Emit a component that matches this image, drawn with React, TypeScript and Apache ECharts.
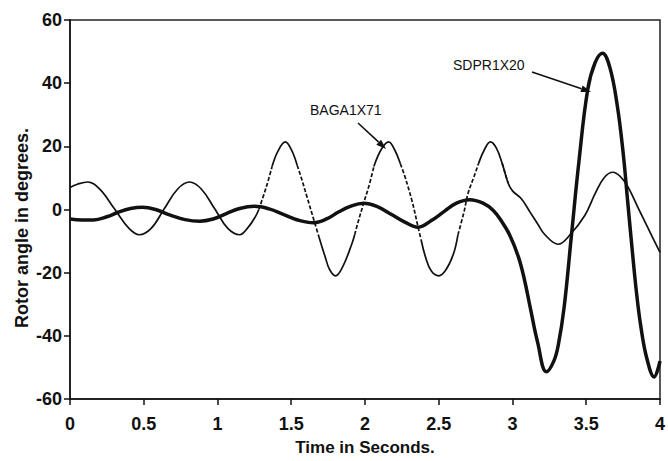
import React, { useEffect, useRef } from "react";
import * as echarts from "echarts";

// BAGA1X71 rotor angle (thin line)
const bagaTime = [
  0, 0.05, 0.12, 0.2, 0.3, 0.4, 0.47, 0.55, 0.64, 0.73, 0.81, 0.89, 0.98, 1.07, 1.15, 1.21, 1.26, 1.28,
  1.33, 1.37, 1.41, 1.46, 1.5, 1.54, 1.565, 1.61, 1.65, 1.69, 1.73, 1.76, 1.8, 1.85, 1.91, 1.93, 1.95,
  1.99, 2.03, 2.06, 2.11, 2.16, 2.2, 2.24, 2.27, 2.32, 2.36, 2.38, 2.41, 2.45, 2.5, 2.55, 2.6, 2.63,
  2.67, 2.7, 2.74, 2.77, 2.81, 2.85, 2.89, 2.93, 2.97, 3.0, 3.06, 3.12, 3.17, 3.22, 3.31, 3.39, 3.49,
  3.56, 3.62, 3.68, 3.73, 3.78, 3.85, 3.92, 4.0,
];
const bagaAngle = [
  7, 8, 8.7, 6.5, 0.3, -6, -8, -6, 0.3, 6.5, 8.7, 6.5, 0.3, -6, -8, -5.5, -2, 0,
  7, 13.6, 18.5, 21.4, 19, 14, 10.5, 3.5, -2.8, -9, -15, -19, -21, -18, -11, -8, -4.5,
  1.9, 8, 13.6, 19, 21.4, 19, 14.5, 10.5, 2.5, -5.6, -9.5, -15, -19.5, -21, -19, -14, -8,
  -1, 5.3, 10.5, 14.6, 19, 21.4, 19.5, 14.6, 8.4, 5.9, 3.4, -0.9, -4.5, -8, -11, -8, -1.9,
  5, 10, 11.8, 10.5, 7.4, 0.7, -6, -13.6,
];

// SDPR1X20 rotor angle (thick line)
const sdprTime = [
  0, 0.08, 0.16, 0.25, 0.33, 0.41, 0.49, 0.58, 0.68, 0.78, 0.88, 0.97, 1.06, 1.15, 1.25, 1.35, 1.45,
  1.55, 1.65, 1.74, 1.82, 1.9, 1.99, 2.08, 2.18, 2.27, 2.36, 2.45, 2.54, 2.62, 2.71, 2.8, 2.87, 2.93,
  2.98, 3.04, 3.08, 3.12, 3.17, 3.23, 3.28, 3.31, 3.35, 3.4, 3.45, 3.51, 3.56, 3.61, 3.66, 3.71, 3.75,
  3.78, 3.81, 3.84, 3.87, 3.91, 3.96, 4.0,
];
const sdprAngle = [
  -3, -3.3, -3.3, -2.3, -0.8, 0.3, 0.7, 0, -1.8, -3.2, -3.7, -3, -1.3, 0.3, 1, 0.2, -1.6,
  -3.4, -4.2, -3, -0.8, 1, 2, 1, -1.6, -4, -5.6, -3.5, -0.5, 2, 3.1, 2, -0.3, -4,
  -8, -15, -22, -31, -42, -51.4, -48, -43, -31, -8, 15, 38, 46.5, 49.5, 45, 33, 18,
  3, -12, -26, -37, -47, -53, -48,
];

// time spans where the BAGA1X71 trace is printed dashed
const bagaDashSpans = [
  [1.28, 1.37],
  [1.54, 1.69],
  [1.93, 2.06],
  [2.24, 2.38],
  [2.63, 2.77],
  [2.93, 2.97],
];

const xTickInterval = 0.5;
const yTickInterval = 20;

function arrow(x1: number, y1: number, x2: number, y2: number) {
  const dx = x2 - x1;
  const dy = y2 - y1;
  const len = Math.sqrt(dx * dx + dy * dy);
  const ux = dx / len;
  const uy = dy / len;
  const hl = 10;
  const hw = 3.5;
  const bx = x2 - ux * hl;
  const by = y2 - uy * hl;
  return [
    {
      type: "line",
      shape: { x1, y1, x2: bx, y2: by },
      style: { stroke: "#111", lineWidth: 1.6 },
      z: 100,
    },
    {
      type: "polygon",
      shape: {
        points: [
          [x2, y2],
          [bx - uy * hw, by + ux * hw],
          [bx + uy * hw, by - ux * hw],
        ],
      },
      style: { fill: "#111" },
      z: 100,
    },
  ];
}

export default function App() {
  const ref = useRef<HTMLDivElement>(null);
  useEffect(() => {
    const chart = echarts.init(ref.current!, null, { renderer: "svg" });
    const inside = (t: number) => bagaDashSpans.some(([a, b]) => t > a + 1e-9 && t < b - 1e-9);
    const inclusive = (t: number) => bagaDashSpans.some(([a, b]) => t >= a - 1e-9 && t <= b + 1e-9);
    const bagaSolid = bagaTime.map((t, i) => [t, inside(t) ? "-" : bagaAngle[i]]);
    const bagaDashed = bagaTime.map((t, i) => [t, inclusive(t) ? bagaAngle[i] : "-"]);
    const sdpr = sdprTime.map((t, i) => [t, sdprAngle[i]]);
    const font = "'Liberation Sans', Arial, sans-serif";

    chart.setOption({
      animation: false,
      grid: {
        left: 70,
        right: 5,
        top: 20,
        bottom: 53,
        show: true,
        borderColor: "#222",
        borderWidth: 1.5,
        backgroundColor: "transparent",
      },
      xAxis: {
        type: "value",
        min: 0,
        max: 4,
        interval: xTickInterval,
        name: "Time in Seconds.",
        nameLocation: "middle",
        nameGap: 40,
        nameTextStyle: { fontFamily: font, fontWeight: "bold", fontSize: 17, color: "#111" },
        axisLine: { show: true, onZero: false, lineStyle: { color: "#111", width: 1.5 } },
        axisTick: { show: true, inside: false, length: 6, lineStyle: { color: "#111", width: 1.5 } },
        axisLabel: { margin: 16, fontFamily: font, fontWeight: "bold", fontSize: 18, color: "#111" },
        splitLine: { show: false },
      },
      yAxis: {
        type: "value",
        min: -60,
        max: 60,
        interval: yTickInterval,
        axisLine: { show: true, onZero: false, lineStyle: { color: "#111", width: 1.5 } },
        axisTick: { show: true, inside: false, length: 6, lineStyle: { color: "#111", width: 1.5 } },
        axisLabel: { margin: 8, fontFamily: font, fontWeight: "bold", fontSize: 18, color: "#111" },
        splitLine: { show: false },
      },
      series: [
        {
          name: "SDPR1X20",
          type: "line",
          data: sdpr,
          smooth: 0.4,
          showSymbol: false,
          lineStyle: { color: "#111", width: 3.5 },
          z: 3,
        },
        {
          name: "BAGA1X71",
          type: "line",
          data: bagaSolid,
          smooth: 0.4,
          connectNulls: false,
          showSymbol: false,
          lineStyle: { color: "#111", width: 1.7 },
          z: 4,
        },
        {
          name: "BAGA1X71 (dashed)",
          type: "line",
          data: bagaDashed,
          smooth: 0.4,
          connectNulls: false,
          showSymbol: false,
          lineStyle: { color: "#111", width: 1.7, type: [4, 2] },
          z: 4,
        },
      ],
      graphic: [
        {
          type: "text",
          x: 22,
          y: 228,
          rotation: Math.PI / 2,
          style: {
            text: "Rotor angle in degrees.",
            font: `bold 18px ${font}`,
            fill: "#111",
            align: "center",
            verticalAlign: "middle",
          },
          z: 100,
        },
        {
          type: "text",
          left: 310,
          top: 103,
          style: { text: "BAGA1X71", font: `14px ${font}`, fill: "#111" },
          z: 100,
        },
        {
          type: "text",
          left: 453,
          top: 58,
          style: { text: "SDPR1X20", font: `14px ${font}`, fill: "#111" },
          z: 100,
        },
        ...arrow(358, 123, 386, 149),
        ...arrow(532, 72, 591, 92),
      ],
    });
    return () => chart.dispose();
  }, []);
  return (
    <div
      ref={ref}
      style={{ position: "fixed", left: 0, top: 0, width: 668, height: 461, background: "#fff" }}
    />
  );
}
